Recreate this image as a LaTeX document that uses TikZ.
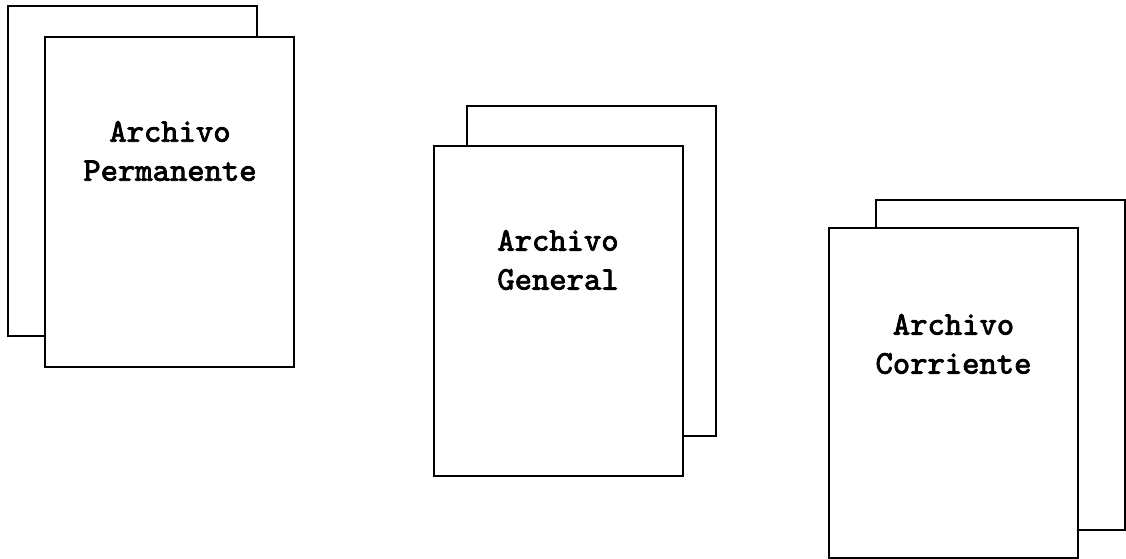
\documentclass[tikz,border=0pt]{standalone}
\usepackage{fontspec}
\newfontfamily\courfont{lmmono10-regular.otf}[FakeBold=2.5]
\begin{document}
\begin{tikzpicture}[x=1pt,y=-1pt,
  sheet/.style={draw=black,line width=2pt,fill=white,rectangle,inner sep=0pt,outer sep=0pt,minimum width=249pt,minimum height=330pt},
  label/.style={font=\courfont\fontsize{33}{39}\selectfont,align=center,inner sep=0pt}]
\useasboundingbox (0,0) rectangle (1126,558);
% left group
\node[sheet] (pb) at (132.5,170.5) {};
\node[sheet] (pf) at (169.5,202) {};
\node[label] (pt) at (170,151) {Archivo\\Permanente};
% middle group
\node[sheet] (gb) at (591.5,271) {};
\node[sheet] (gf) at (558,310.5) {};
\node[label] (gt) at (558,260) {Archivo\\General};
% right group
\node[sheet] (cb) at (1000.5,364.5) {};
\node[sheet] (cf) at (953.5,393) {};
\node[label] (ct) at (953.5,344) {Archivo\\Corriente};
\end{tikzpicture}
\end{document}
